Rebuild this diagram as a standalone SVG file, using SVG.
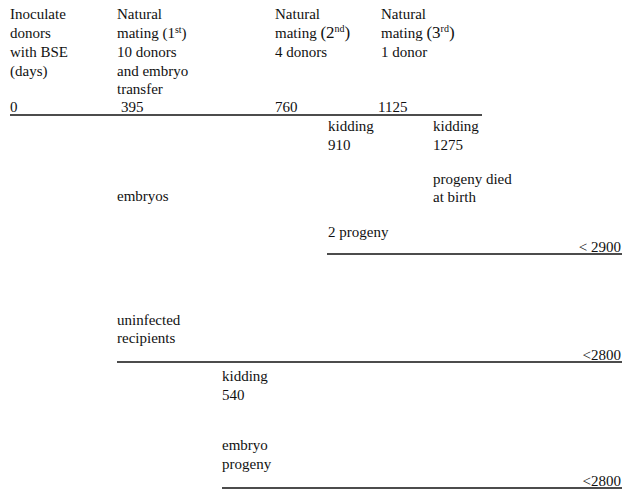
<svg xmlns="http://www.w3.org/2000/svg" width="636" height="490" viewBox="0 0 636 490">
<style>
text { font-family: "Liberation Serif", "Times New Roman", serif; font-size: 15px; fill: #111; }
.r { text-anchor: end; }
.big { font-size: 17px; }
.sup { font-size: 10px; }
line { stroke: #111; stroke-width: 1.3; }
</style>
<rect width="636" height="490" fill="#fff"/>
<g id="connectors">
<line x1="10" y1="115" x2="482" y2="115"/>
<line x1="327" y1="254" x2="622" y2="254"/>
<line x1="117" y1="362" x2="622" y2="362"/>
<line x1="222" y1="488" x2="622" y2="488"/>
</g>
<g id="inoculate">
<text x="10" y="19">Inoculate</text>
<text x="10" y="38">donors</text>
<text x="10" y="57">with BSE</text>
<text x="10" y="76">(days)</text>
<text x="10" y="112">0</text>
</g>
<g id="mating1">
<text x="117" y="19">Natural</text>
<text x="117" y="38">mating (1<tspan class="sup" dy="-5">st</tspan><tspan dy="5">)</tspan></text>
<text x="117" y="57">10 donors</text>
<text x="117" y="76">and embryo</text>
<text x="117" y="94">transfer</text>
<text x="121" y="112">395</text>
</g>
<g id="mating2">
<text x="275" y="19">Natural</text>
<text x="275" y="38">mating <tspan class="big">(2</tspan><tspan class="sup" dy="-6">nd</tspan><tspan class="big" dy="6">)</tspan></text>
<text x="275" y="57">4 donors</text>
<text x="275" y="112">760</text>
</g>
<g id="mating3">
<text x="381" y="19">Natural</text>
<text x="381" y="38">mating <tspan class="big">(3</tspan><tspan class="sup" dy="-6">rd</tspan><tspan class="big" dy="6">)</tspan></text>
<text x="381" y="57">1 donor</text>
<text x="378" y="112">1125</text>
</g>
<g id="kidding910">
<text x="328" y="131">kidding</text>
<text x="328" y="150">910</text>
</g>
<g id="kidding1275">
<text x="433" y="131">kidding</text>
<text x="433" y="150">1275</text>
</g>
<g id="died">
<text x="433" y="184">progeny died</text>
<text x="433" y="202">at birth</text>
</g>
<g id="embryos">
<text x="117" y="201">embryos</text>
</g>
<g id="progeny2">
<text x="328" y="237">2 progeny</text>
<text class="r" x="621" y="252">&lt; 2900</text>
</g>
<g id="recipients">
<text x="117" y="325">uninfected</text>
<text x="117" y="343">recipients</text>
<text class="r" x="621" y="360">&lt;2800</text>
</g>
<g id="kidding540">
<text x="222" y="381">kidding</text>
<text x="222" y="400">540</text>
</g>
<g id="embryoprogeny">
<text x="222" y="450">embryo</text>
<text x="222" y="469">progeny</text>
<text class="r" x="621" y="486">&lt;2800</text>
</g>
</svg>
